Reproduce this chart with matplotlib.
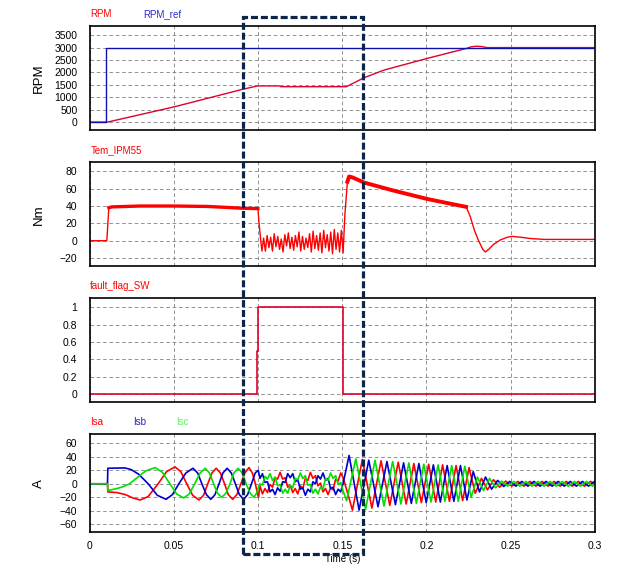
import numpy as np
import matplotlib
matplotlib.use("Agg")
import matplotlib.pyplot as plt
from matplotlib.patches import Rectangle

plt.rcParams['font.family'] = ['Liberation Sans', 'DejaVu Sans']

# ---------------- data ----------------
x_ticks = [0, 0.05, 0.1, 0.15, 0.2, 0.25, 0.3]
x_tick_labels = ["0", "0.05", "0.1", "0.15", "0.2", "0.25", "0.3"]

rpm_t = [0, 0.0105, 0.0503, 0.0906, 0.0995, 0.1125, 0.1135, 0.1524, 0.1629, 0.1749,
         0.2007, 0.2240, 0.2265, 0.2299, 0.2330, 0.2360, 0.3000]
rpm_v = [0, 0, 617, 1318, 1455, 1455, 1425, 1425, 1786, 2097,
         2569, 2972, 3030, 3055, 3040, 3000, 3000]
rpm_ref_t = [0, 0.0097, 0.0097, 0.3]
rpm_ref_v = [0, 0, 3000, 3000]
rpm_ticks = [0, 500, 1000, 1500, 2000, 2500, 3000, 3500]

# torque: healthy start, fault oscillation, recovery
tem_t1 = [0, 0.0100, 0.0112, 0.0130, 0.0300, 0.0500, 0.0700, 0.0900, 0.0998]
tem_v1 = [0, 0, 38, 39, 40, 40, 39.5, 37.5, 37]
tem_t2 = [0.1005, 0.1015, 0.1022] + list(np.linspace(0.1032, 0.15045, 46))
tem_v2 = [20, 0, -12,
          3, -12, 6, -8, 4, -12, 8, -7, 5, -10, 2, -13, 7, -6, 9, -9, 4, -11, 6, -7,
          10, -12, 5, -10, 3, -8, 8, -13, 11, -9, 6, -11, 9, -14, 12, -8, 7, -12, 10,
          -15, 13, -10, 9, -13, 12, -14]
tem_t3 = [0.1515, 0.1530, 0.1540, 0.1560, 0.1630, 0.1800, 0.2007, 0.2236, 0.2260,
          0.2285, 0.2310, 0.2335, 0.2350, 0.2370, 0.2400, 0.2440, 0.2480, 0.2510,
          0.2560, 0.2620, 0.2700, 0.3000]
tem_v3 = [30, 68, 74, 73, 67, 58, 48, 39, 28, 12, 0, -10, -13, -10, -4, 1, 4, 5,
          4, 2.5, 1.5, 1.5]
tem_ticks = [-20, 0, 20, 40, 60, 80]

ff_t = [0, 0.0994, 0.0994, 0.0998, 0.0998, 0.1503, 0.1503, 0.3]
ff_v = [0, 0, 0.5, 0.5, 1, 1, 0, 0]
ff_ticks = [0, 0.2, 0.4, 0.6, 0.8, 1]
ff_tick_labels = ["0", "0.2", "0.4", "0.6", "0.8", "1"]

# phase currents: healthy part
isa_t_h = [0, 0.0104, 0.0106, 0.016, 0.021, 0.0255, 0.0298, 0.0345, 0.0405, 0.0455,
           0.0505, 0.0540, 0.0575, 0.0610, 0.0648, 0.0675, 0.0700, 0.0725, 0.0750,
           0.0775, 0.0800, 0.0822, 0.0848, 0.0873, 0.0897, 0.0920, 0.0945, 0.0965,
           0.0983, 0.0995, 0.1002]
isa_v_h = [0, 0, -12, -13, -16, -21, -24, -19, 0, 18, 25, 18, 0, -17, -24, -17, 0,
           16, 23, 16, 0, -16, -23, -16, 0, 16, 24, 16, 0, -14, -20]
isb_t_h = [0, 0.0104, 0.0106, 0.0207, 0.0245, 0.0290, 0.0346, 0.0400, 0.0452, 0.0490,
           0.0528, 0.0570, 0.0612, 0.0640, 0.0665, 0.0692, 0.0718, 0.0743, 0.0767,
           0.0790, 0.0815, 0.0840, 0.0864, 0.0888, 0.0913, 0.0937, 0.0960, 0.0982,
           0.1000]
isb_v_h = [0, 0, 23, 23.5, 21, 14, 0, -17, -23, -16, 0, 16, 23, 16, 0, -16, -23, -16,
           0, 16, 23, 16, 0, -16, -23, -16, 0, 16, 20]
isc_t_h = [0, 0.0104, 0.0106, 0.0160, 0.0200, 0.0235, 0.0285, 0.0330, 0.0388, 0.0430,
           0.0475, 0.0515, 0.0557, 0.0590, 0.0622, 0.0655, 0.0685, 0.0710, 0.0735,
           0.0758, 0.0783, 0.0808, 0.0832, 0.0855, 0.0880, 0.0905, 0.0928, 0.0952,
           0.0975, 0.0990, 0.1002]
isc_v_h = [0, 0, -10, -7, -4, 0, 10, 19, 24, 17, 0, -15, -21, -15, 0, 16, 23, 16, 0,
           -14, -20, -14, 0, 16, 23, 16, 0, -14, -20, -14, -5]

# phase currents: fault interval (common sample times)
is_t_f = list(np.linspace(0.101, 0.1505, 34))
isa_v_f = [-3, -15, -7, -13, -1, -5, 9, 7, 17, 7, 9, -5, -2, -13, -7, -15, -3, -7, 8,
           5, 17, 8, 12, -3, 1, -12, -7, -16, -6, -9, 7, 4, 16, 9]
isb_v_f = [8, 15, 2, 3, -12, -8, -16, -6, -11, 3, 2, 15, 9, 15, 3, 6, -8, -6, -17, -8,
           -12, 3, 0, 12, 7, 16, 5, 8, -7, -5, -16, -8, -12, 1]
isc_v_f = [0, -2, 11, 7, 15, 5, 10, -3, -1, -14, -8, -14, -2, -6, 8, 6, 16, 8, 12, -2,
           -1, -14, -8, -15, -5, -8, 8, 5, 16, 8, 12, -1, 2, -11]

# phase currents: after fault (extrema)
isa_t_b = [0.1560, 0.1619, 0.16755, 0.1730, 0.1782, 0.1832, 0.18795, 0.1925, 0.19695,
           0.2013, 0.2055, 0.2096, 0.21365, 0.2176, 0.2215, 0.2253, 0.2290, 0.2327,
           0.2363, 0.2399, 0.2435, 0.2471, 0.2507, 0.2543, 0.2579, 0.2615, 0.2651,
           0.2687, 0.2723, 0.2759, 0.2795, 0.2831, 0.2867, 0.2903, 0.2939, 0.2975, 0.3000]
isa_v_b = [-39, 36, -36, 34, -32, 32, -30, 30, -28, 29, -27, 28, -26, 27, -25, 24, -14,
           8, -9, 6, -5, 4, -3.5, 3.5, -3.5, 3.5, -3.5, 3.5, -3.5, 3.5, -3.5, 3.5, -3.5,
           3.5, -3.5, 3.5, 0]
isb_t_b = [0.1540, 0.15995, 0.1657, 0.1712, 0.1765, 0.18155, 0.1864, 0.1910, 0.1955,
           0.19985, 0.2041, 0.20825, 0.2123, 0.2163, 0.2202, 0.22405, 0.2278, 0.2315,
           0.2351, 0.2387, 0.2423, 0.2459, 0.2495, 0.2531, 0.2567, 0.2603, 0.2639,
           0.2675, 0.2711, 0.2747, 0.2783, 0.2819, 0.2855, 0.2891, 0.2927, 0.2963, 0.2999]
isb_v_b = [42, -39, 35, -34, 33, -31, 31, -29, 30, -28, 28, -27, 27, -26, 27, -24, 18,
           -12, 10, -8, 5, -4, 3.5, -3.5, 3.5, -3.5, 3.5, -3.5, 3.5, -3.5, 3.5, -3.5,
           3.5, -3.5, 3.5, -3.5, 3.5]
isc_t_b = [0.1525, 0.1580, 0.1638, 0.1694, 0.17475, 0.1799, 0.1848, 0.1895, 0.1940,
           0.1984, 0.2027, 0.2069, 0.21095, 0.2150, 0.2189, 0.2228, 0.22655, 0.2303,
           0.2339, 0.2375, 0.2411, 0.2447, 0.2483, 0.2519, 0.2555, 0.2591, 0.2627,
           0.2663, 0.2699, 0.2735, 0.2771, 0.2807, 0.2843, 0.2879, 0.2915, 0.2951,
           0.2987, 0.3000]
isc_v_b = [-25, 37, -38, 35, -33, 33, -30, 31, -29, 29, -27, 28, -26, 27, -26, 26, -20,
           10, -10, 8, -6, 4, -3.5, 3.5, -3.5, 3.5, -3.5, 3.5, -3.5, 3.5, -3.5, 3.5,
           -3.5, 3.5, -3.5, 3.5, -3.5, -1]
cur_ticks = [-60, -40, -20, 0, 20, 40, 60]

# ---------------- style ----------------
RED = '#ff0000'
BLUE = '#0000cc'
GREEN = '#00e000'
GRID = '#8a8a8a'
NAVY = '#0d2548'
FS_TICK = 7.5
FS_LAB = 9.5
FS_SIG = 7

W_PX, H_PX = 624, 584
fig = plt.figure(figsize=(W_PX / 100, H_PX / 100), dpi=100)
L = 90 / W_PX
W = 504.7 / W_PX


def add_panel(top, bottom):
    ax = fig.add_axes([L, 1 - bottom / H_PX, W, (bottom - top) / H_PX])
    ax.set_xlim(0, 0.3)
    ax.set_xticks(x_ticks)
    ax.grid(True, color=GRID, linestyle=(0, (4, 3)), linewidth=0.65)
    ax.set_axisbelow(True)
    ax.tick_params(length=0, labelsize=FS_TICK, pad=9)
    for s in ax.spines.values():
        s.set_linewidth(1.2)
        s.set_color('black')
    return ax


def sig_label(x, y, text, color):
    fig.text(x / W_PX, 1 - y / H_PX, text, color=color, fontsize=FS_SIG,
             ha='left', va='center')


# Panel 1: RPM
ax1 = add_panel(26, 130)
ax1.plot(rpm_t, rpm_v, color='#e0002a', lw=1.0)
ax1.plot(rpm_ref_t, rpm_ref_v, color='#1010b0', lw=1.0)
ax1.set_ylim(-320, 3870)
ax1.set_yticks(rpm_ticks)
ax1.set_xticklabels([])
ax1.set_ylabel("RPM", fontsize=FS_LAB)
ax1.yaxis.set_label_coords(-0.089, 0.5)
sig_label(90, 14, "RPM", RED)
sig_label(143, 14, "RPM_ref", '#2a2ad0')

# Panel 2: torque
ax2 = add_panel(162.3, 266.3)
tem_t = tem_t1 + tem_t2 + tem_t3
tem_v = tem_v1 + tem_v2 + tem_v3
ax2.plot(tem_t, tem_v, color=RED, lw=1.0)
ax2.plot(tem_t1[2:], tem_v1[2:], color=RED, lw=2.4)
ax2.plot(tem_t3[1:8], tem_v3[1:8], color=RED, lw=2.8)
ax2.set_ylim(-29.5, 90.4)
ax2.set_yticks(tem_ticks)
ax2.set_xticklabels([])
ax2.set_ylabel("Nm", fontsize=FS_LAB)
ax2.yaxis.set_label_coords(-0.089, 0.5)
sig_label(91, 150, "Tem_IPM55", RED)

# Panel 3: fault flag
ax3 = add_panel(298.3, 402)
ax3.plot(ff_t, ff_v, color='#e0002a', lw=1.2)
ax3.set_ylim(-0.092, 1.104)
ax3.set_yticks(ff_ticks)
ax3.set_yticklabels(ff_tick_labels)
ax3.set_xticklabels([])
sig_label(90, 286, "fault_flag_SW", RED)

# Panel 4: currents
ax4 = add_panel(434.3, 532)
ax4.plot(isa_t_h + is_t_f + isa_t_b, isa_v_h + isa_v_f + isa_v_b, color=RED, lw=1.2)
ax4.plot(isb_t_h + is_t_f + isb_t_b, isb_v_h + isb_v_f + isb_v_b, color=BLUE, lw=1.2)
ax4.plot(isc_t_h + is_t_f + isc_t_b, isc_v_h + isc_v_f + isc_v_b, color=GREEN, lw=1.2)
ax4.set_ylim(-71.4, 73.3)
ax4.set_yticks(cur_ticks)
ax4.set_xticklabels(x_tick_labels)
ax4.tick_params(axis='x', pad=6.5)
ax4.set_ylabel("A", fontsize=FS_LAB)
ax4.yaxis.set_label_coords(-0.089, 0.5)
sig_label(90, 422, "Isa", RED)
sig_label(133, 422, "Isb", '#2020c0')
sig_label(176, 422, "Isc", '#66ee66')

fig.text(343 / W_PX, 1 - 559 / H_PX, "Time (s)", fontsize=FS_SIG,
         ha='center', va='center')

# highlight box
x0, x1, y0, y1 = 243, 363, 17, 554
rect = Rectangle((x0 / W_PX, 1 - y1 / H_PX), (x1 - x0) / W_PX, (y1 - y0) / H_PX,
                 transform=fig.transFigure, fill=False, edgecolor=NAVY,
                 linewidth=2.3, linestyle=(0, (2.2, 0.9)), zorder=10)
fig.patches.append(rect)

fig.savefig("out.png", dpi=100)
